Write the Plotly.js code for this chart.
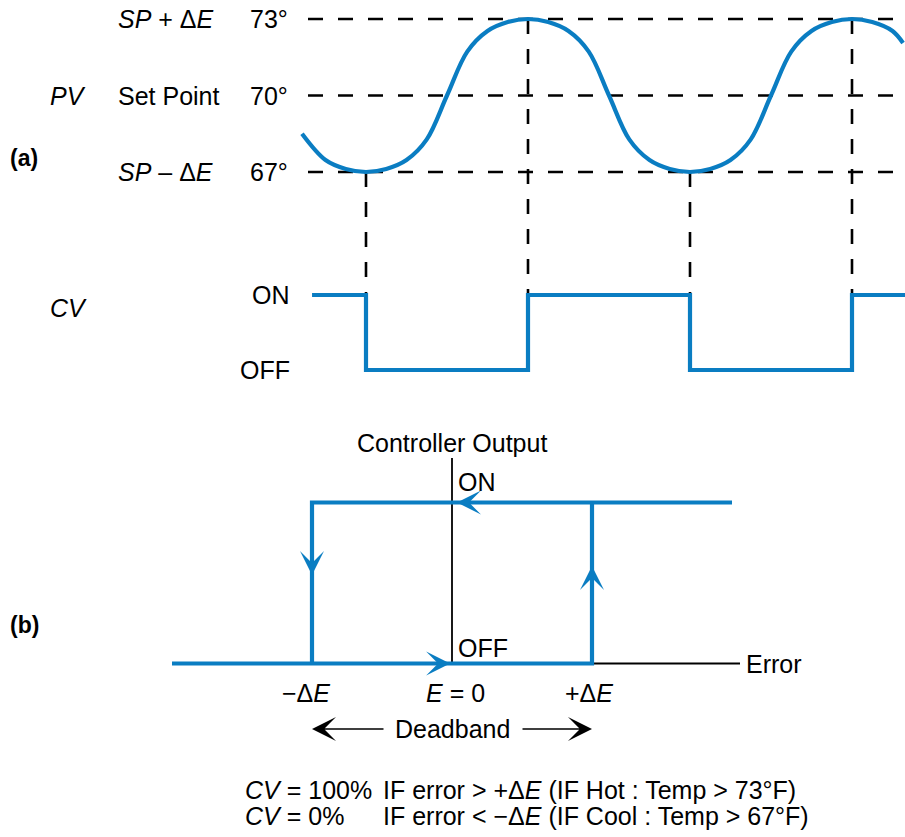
<!DOCTYPE html>
<html>
<head>
<meta charset="utf-8">
<script src="https://cdn.plot.ly/plotly-3.0.1.min.js"></script>
<style>
  html, body { margin: 0; padding: 0; background: #ffffff; }
  #chart { width: 905px; height: 837px; }
</style>
</head>
<body>
<div id="chart"></div>
<script>
// ---------------- DATA ----------------
// (a) process variable (temperature, °F) vs time (arbitrary units)
const pvTime = [-3.95, -2.5, -1.25, 0, 1.25, 2.5, 3.75, 5, 6.25, 7.5, 8.75, 10, 11.25, 12.5, 13.75, 15, 16.25, 17.5, 18.75, 20, 21.25, 22.5, 23.75, 25, 26.25, 27.5, 28.75, 30, 31.25, 32.5, 33.15];
const pvTemp = [68.5, 67.47, 67.12, 67.0, 67.12, 67.47, 68.28, 70.0, 71.72, 72.53, 72.88, 73.0, 72.88, 72.53, 71.72, 70.0, 68.28, 67.47, 67.12, 67.0, 67.12, 67.47, 68.28, 70.0, 71.72, 72.53, 72.88, 73.0, 72.88, 72.53, 72.06];

// (a) controller output CV (1 = ON, 0 = OFF) step changes
const cvTime  = [-3.33, 0, 10, 20, 30, 33.3];
const cvState = [1, 0, 1, 0, 1, 1];

// switching instants and PV value there
const switchTime = [0, 10, 20, 30];
const switchTemp = [67, 73, 67, 73];

// PV reference levels
const levelTemps  = [73, 70, 67];
const levelNames  = ['<i>SP</i> + Δ<i>E</i>', 'Set Point', '<i>SP</i> – Δ<i>E</i>'];
const levelLabels = ['73°', '70°', '67°'];

// (b) on/off characteristic with deadband (error in °F, ΔE = 3)
const deltaE = 3;
const loopError  = [-6, 3, 3, 6, -3, -3];
const loopOutput = [0, 0, 1, 1, 1, 0];
const errorTicks = [-3, 0, 3];
const errorTickLabels = ['−Δ<i>E</i>', '<i>E</i> = 0', '+Δ<i>E</i>'];

// ---------------- LAYOUT HELPERS ----------------
const W = 905, H = 837;
const BLUE = '#0a7dc2';
const FONT = 'Liberation Sans, Arial, Helvetica, sans-serif';
const FS = 25;
function py(p) { return 1 - p / H; }
function pxp(p) { return p / W; }
// range for an axis given two calibration points (value at pixel)
function rangeFrom(v1, p1, v2, p2, pStart, pEnd) {
  const s = (v2 - v1) / (p2 - p1);
  return [v1 + (pStart - p1) * s, v1 + (pEnd - p1) * s];
}
const topPx = [0, 420], botPx = [420, 837];
const xRange  = rangeFrom(0, 366, 10, 528, 0, W);
const yRange  = rangeFrom(73, 19, 67, 172, topPx[1], topPx[0]);
const y2Range = rangeFrom(1, 295, 0, 370, topPx[1], topPx[0]);
const x2Range = rangeFrom(-3, 312, 3, 592, 0, W);
const y3Range = rangeFrom(1, 502.5, 0, 663.5, botPx[1], botPx[0]);
function y2ToY(v) {
  const f = (v - y2Range[0]) / (y2Range[1] - y2Range[0]);
  return yRange[0] + f * (yRange[1] - yRange[0]);
}
function y3FromPx(p) { return rangeFrom(1, 502.5, 0, 663.5, p, p)[0]; }

const hidden = { visible: false, fixedrange: true };

// ---------------- TRACES ----------------
const traces = [
  { x: pvTime, y: pvTemp, xaxis: 'x', yaxis: 'y', mode: 'lines',
    line: { color: BLUE, width: 4.2, shape: 'spline', smoothing: 1 }, hoverinfo: 'skip' },
  { x: cvTime, y: cvState, xaxis: 'x', yaxis: 'y2', mode: 'lines',
    line: { color: BLUE, width: 4.2, shape: 'hv' }, hoverinfo: 'skip' },
  { x: loopError, y: loopOutput, xaxis: 'x2', yaxis: 'y3', mode: 'lines',
    line: { color: BLUE, width: 4.2 }, hoverinfo: 'skip' }
];

// ---------------- SHAPES ----------------
const shapes = [];
levelTemps.forEach(t => shapes.push({
  type: 'line', xref: 'x', yref: 'y', x0: rangeFrom(0,366,10,528,308,308)[0], x1: xRange[1], y0: t, y1: t,
  line: { color: '#000', width: 2.6, dash: '15px,15px' }, layer: 'below'
}));
switchTime.forEach((t, i) => shapes.push({
  type: 'line', xref: 'x', yref: 'y', x0: t, x1: t, y0: switchTemp[i], y1: y2ToY(1),
  line: { color: '#000', width: 2.6, dash: '15px,15px' }, layer: 'below'
}));
// (b) axes
shapes.push({ type: 'line', xref: 'x2', yref: 'y3', x0: 0, x1: 0, y0: 0, y1: y3FromPx(458),
  line: { color: '#000', width: 1.8 }, layer: 'below' });
shapes.push({ type: 'line', xref: 'x2', yref: 'y3', x0: 0, x1: rangeFrom(-3,312,3,592,740,740)[0], y0: 0, y1: 0,
  line: { color: '#000', width: 1.8 }, layer: 'below' });

// ---------------- ANNOTATIONS ----------------
const base = { showarrow: false, font: { family: FONT, size: FS, color: '#000' }, borderpad: 0, borderwidth: 0 };
const ann = [];
function txt(o) { ann.push(Object.assign({}, base, o)); }

levelTemps.forEach((t, i) => {
  txt({ text: levelNames[i], xref: 'paper', x: pxp(118), xanchor: 'left', yref: 'y', y: t, yanchor: 'middle' });
  txt({ text: levelLabels[i], xref: 'paper', x: pxp(250), xanchor: 'left', yref: 'y', y: t, yanchor: 'middle' });
});
txt({ text: '<i>PV</i>', xref: 'paper', x: pxp(50), xanchor: 'left', yref: 'y', y: 70, yanchor: 'middle' });
txt({ text: '<b>(a)</b>', xref: 'paper', x: pxp(10), xanchor: 'left', yref: 'paper', y: py(158), yanchor: 'middle', font: { family: FONT, size: 23, color: '#000' } });
txt({ text: '<i>CV</i>', xref: 'paper', x: pxp(50), xanchor: 'left', yref: 'paper', y: py(308), yanchor: 'middle' });
txt({ text: 'ON', xref: 'paper', x: pxp(290), xanchor: 'right', yref: 'y2', y: 1, yanchor: 'middle' });
txt({ text: 'OFF', xref: 'paper', x: pxp(290), xanchor: 'right', yref: 'y2', y: 0, yanchor: 'middle' });

txt({ text: 'Controller Output', xref: 'x2', x: 0, xanchor: 'center', yref: 'paper', y: py(443), yanchor: 'middle' });
txt({ text: 'ON', xref: 'x2', x: 0, xanchor: 'left', xshift: 6, yref: 'y3', y: y3FromPx(482), yanchor: 'middle' });
txt({ text: 'OFF', xref: 'x2', x: 0, xanchor: 'left', xshift: 6, yref: 'y3', y: y3FromPx(648), yanchor: 'middle' });
txt({ text: '<b>(b)</b>', xref: 'paper', x: pxp(10), xanchor: 'left', yref: 'paper', y: py(625), yanchor: 'middle', font: { family: FONT, size: 23, color: '#000' } });
const tickShift = [-6, 3, -3];
errorTicks.forEach((e, i) => txt({ text: errorTickLabels[i], xref: 'x2', x: e, xanchor: 'center', xshift: tickShift[i],
  yref: 'paper', y: py(693), yanchor: 'middle' }));
txt({ text: 'Error', xref: 'paper', x: pxp(746), xanchor: 'left', yref: 'y3', y: 0, yanchor: 'middle' });
txt({ text: 'Deadband', xref: 'x2', x: 0, xanchor: 'center', yref: 'paper', y: py(729), yanchor: 'middle' });

// loop direction arrows
function arrow(o) {
  ann.push(Object.assign({ text: '', showarrow: true, arrowhead: 3, arrowsize: 2.0, arrowwidth: 2,
    arrowcolor: BLUE, xref: 'x2', yref: 'y3', axref: 'pixel', ayref: 'pixel' }, o));
}
arrow({ x: 0.107, y: 1, ax: 26, ay: 0 });
arrow({ x: -0.04, y: 0, ax: -26, ay: 0 });
arrow({ x: -deltaE, y: y3FromPx(575), ax: 0, ay: -26 });
arrow({ x: deltaE, y: y3FromPx(566), ax: 0, ay: 26 });
// deadband arrows
arrow({ x: -deltaE, y: y3FromPx(729), ax: 73, ay: 0, arrowcolor: '#000', arrowwidth: 1.6, arrowsize: 2.5 });
arrow({ x: deltaE, y: y3FromPx(729), ax: -71, ay: 0, arrowcolor: '#000', arrowwidth: 1.6, arrowsize: 2.5 });

// rule text
txt({ text: '<i>CV</i> = 100%', xref: 'paper', x: pxp(245), xanchor: 'left', yref: 'paper', y: py(790), yanchor: 'middle' });
txt({ text: 'IF error &gt; +Δ<i>E</i> (IF Hot : Temp &gt; 73°F)', xref: 'paper', x: pxp(383), xanchor: 'left', yref: 'paper', y: py(790), yanchor: 'middle' });
txt({ text: '<i>CV</i> = 0%', xref: 'paper', x: pxp(245), xanchor: 'left', yref: 'paper', y: py(816), yanchor: 'middle' });
txt({ text: 'IF error &lt; −Δ<i>E</i> (IF Cool : Temp &gt; 67°F)', xref: 'paper', x: pxp(383), xanchor: 'left', yref: 'paper', y: py(816), yanchor: 'middle' });

const layout = {
  width: W, height: H,
  margin: { l: 0, r: 0, t: 0, b: 0, pad: 0 },
  paper_bgcolor: '#ffffff', plot_bgcolor: 'rgba(0,0,0,0)',
  showlegend: false,
  font: { family: FONT, size: FS, color: '#000' },
  xaxis:  Object.assign({ domain: [0, 1], range: xRange, anchor: 'y' }, hidden),
  yaxis:  Object.assign({ domain: [py(topPx[1]), py(topPx[0])], range: yRange, anchor: 'x' }, hidden),
  yaxis2: Object.assign({ overlaying: 'y', range: y2Range, anchor: 'x' }, hidden),
  xaxis2: Object.assign({ domain: [0, 1], range: x2Range, anchor: 'y3' }, hidden),
  yaxis3: Object.assign({ domain: [py(botPx[1]), py(botPx[0])], range: y3Range, anchor: 'x2' }, hidden),
  shapes: shapes,
  annotations: ann
};

Plotly.newPlot('chart', traces, layout, { staticPlot: true, displayModeBar: false });
</script>
</body>
</html>
